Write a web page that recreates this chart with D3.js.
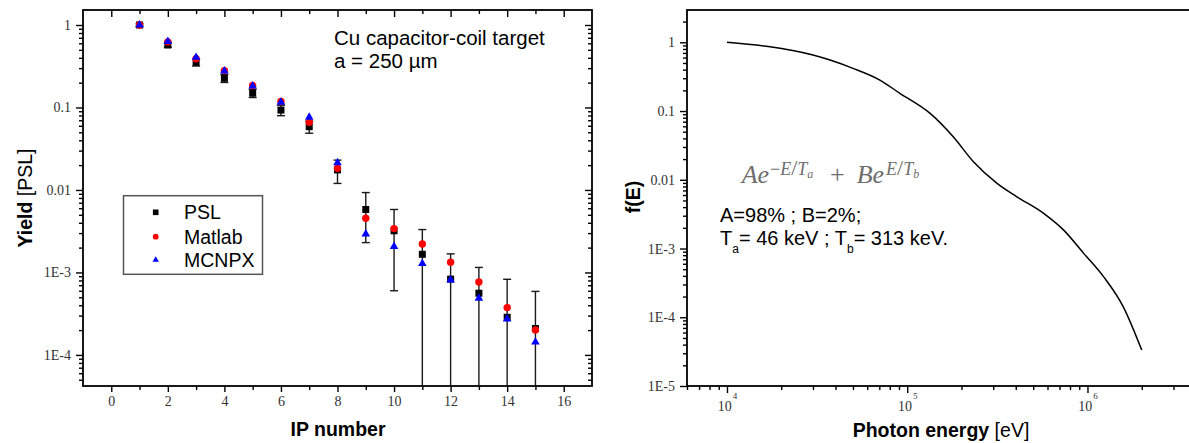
<!DOCTYPE html>
<html><head><meta charset="utf-8">
<script src="https://cdn.jsdelivr.net/npm/d3@7"></script>
<style>
body{margin:0;background:#fff;}
svg{display:block;font-family:"Liberation Sans",Arial,sans-serif;}
</style>
</head><body>
<script>
// ---------- DATA ----------
const ipNumbers   = [1,2,3,4,5,6,7,8,9,10,11,12,13,14,15];
const pslValues   = [1.0,0.572,0.353,0.226,0.149,0.093,0.0585,0.0175,0.0058,0.0032,0.00166,8.3e-4,5.6e-4,2.86e-4,2.09e-4];
const pslErrors   = [0.035,0.035,0.035,0.025,0.017,0.0135,0.0098,0.0055,0.0035,0.0026,0.00165,8.5e-4,5.9e-4,5.4e-4,3.8e-4];
const matlabValues= [1.0,0.625,0.39,0.28,0.185,0.118,0.066,0.0183,0.00454,0.0034,0.00221,0.00133,7.67e-4,3.75e-4,2.01e-4];
const mcnpxValues = [1.0,0.63,0.405,0.277,0.182,0.116,0.076,0.0214,0.00293,0.00206,0.00128,8.1e-4,4.87e-4,2.73e-4,1.43e-4];
const seriesNames = ["PSL","Matlab","MCNPX"];

const xTicksLeftMajor = [0,2,4,6,8,10,12,14,16];
const xTicksLeftMinor = [1,3,5,7,9,11,13,15];
const yTicksLeft  = [1e-4,1e-3,0.01,0.1,1];

const photonEnergy = [1e4,3e4,3.73e4,5e4,7.05e4,9.1e4,1.34e5,1.8e5,2.33e5,3.15e5,4.06e5,5.71e5,7.38e5,9.53e5,1.23e6,1.58e6,2.0e6];
const spectrumF    = [1,0.653,0.552,0.418,0.282,0.181,0.0925,0.0423,0.0183,0.00887,0.00566,0.00324,0.00185,8.5e-4,3.87e-4,1.42e-4,3.33e-5];
const xTicksRight  = [1e4,1e5,1e6];
const yTicksRight  = [1e-5,1e-4,1e-3,0.01,0.1,1];

// ---------- SETUP ----------
const svg = d3.select("body").append("svg").attr("width",1189).attr("height",443);
const SERIF = '"Liberation Serif","Times New Roman",serif';
const tickFmtLog = d => d >= 0.01 ? d3.format("~g")(d) : "1E" + Math.round(Math.log10(d));

function logMinor(lo, hi){
  const out=[];
  for(let e=Math.floor(Math.log10(lo)); e<=Math.ceil(Math.log10(hi)); e++)
    for(let m=2;m<=9;m++){ const v=m*Math.pow(10,e); if(v>=lo && v<=hi) out.push(v); }
  return out;
}
function styleAxis(g){
  g.select(".domain").remove();
  g.selectAll(".tick line").attr("stroke","#000").attr("stroke-width",1.4);
  g.selectAll(".tick text").attr("font-family",SERIF).attr("font-size",14).attr("fill","#333");
}

// ---------- LEFT PANEL ----------
const L = {x0:83, x1:592, y0:10, y1:386};
const xL = d3.scaleLinear().domain([-1,17]).range([L.x0,L.x1]);
const yL = d3.scaleLog().domain([4.2e-5,1.52]).range([L.y1,L.y0]);

svg.append("g").attr("transform",`translate(0,${L.y1})`)
  .call(d3.axisBottom(xL).tickValues(xTicksLeftMajor).tickSize(6).tickFormat(d3.format("d")))
  .call(styleAxis).call(g=>g.selectAll(".tick text").attr("y",20).attr("dy",null));
svg.append("g").attr("transform",`translate(0,${L.y1})`)
  .call(d3.axisBottom(xL).tickValues(xTicksLeftMinor).tickSize(4).tickFormat(""))
  .call(styleAxis);
svg.append("g").attr("transform",`translate(0,${L.y0})`)
  .call(d3.axisBottom(xL).tickValues(xTicksLeftMajor).tickSize(7).tickFormat(""))
  .call(styleAxis);
svg.append("g").attr("transform",`translate(0,${L.y0})`)
  .call(d3.axisBottom(xL).tickValues(xTicksLeftMinor).tickSize(4).tickFormat(""))
  .call(styleAxis);
svg.append("g").attr("transform",`translate(${L.x0},0)`)
  .call(d3.axisLeft(yL).tickValues(yTicksLeft).tickSize(7).tickPadding(5).tickFormat(tickFmtLog))
  .call(styleAxis);
svg.append("g").attr("transform",`translate(${L.x0},0)`)
  .call(d3.axisLeft(yL).tickValues(logMinor(4.2e-5,1.52)).tickSize(4).tickFormat(""))
  .call(styleAxis);
svg.append("g").attr("transform",`translate(${L.x1},0)`)
  .call(d3.axisLeft(yL).tickValues(yTicksLeft).tickSize(7).tickFormat(""))
  .call(styleAxis);
svg.append("g").attr("transform",`translate(${L.x1},0)`)
  .call(d3.axisLeft(yL).tickValues(logMinor(4.2e-5,1.52)).tickSize(4).tickFormat(""))
  .call(styleAxis);
svg.append("rect").attr("x",L.x0).attr("y",L.y0).attr("width",L.x1-L.x0).attr("height",L.y1-L.y0)
  .attr("fill","none").attr("stroke","#000").attr("stroke-width",1.8);

const pts = ipNumbers.map((ip,i)=>({ip, psl:pslValues[i], err:pslErrors[i], mat:matlabValues[i], mc:mcnpxValues[i]}));
const gData = svg.append("g");
const ebColor = "#1a1a1a";
pts.forEach(p=>{
  const x = xL(p.ip);
  const yt = yL(p.psl+p.err);
  const lowV = p.psl-p.err;
  const yb = lowV > yL.domain()[0] ? yL(lowV) : L.y1;
  gData.append("line").attr("x1",x).attr("x2",x).attr("y1",yt).attr("y2",yb).attr("stroke",ebColor).attr("stroke-width",1.4);
  gData.append("line").attr("x1",x-4).attr("x2",x+4).attr("y1",yt).attr("y2",yt).attr("stroke",ebColor).attr("stroke-width",1.4);
  if(lowV > yL.domain()[0])
    gData.append("line").attr("x1",x-4).attr("x2",x+4).attr("y1",yb).attr("y2",yb).attr("stroke",ebColor).attr("stroke-width",1.4);
});
gData.selectAll("rect.psl").data(pts).join("rect").attr("class","psl")
  .attr("x",d=>xL(d.ip)-3.5).attr("y",d=>yL(d.psl)-3.5).attr("width",7).attr("height",7).attr("fill","#000");
gData.selectAll("circle.mat").data(pts).join("circle").attr("class","mat")
  .attr("cx",d=>xL(d.ip)).attr("cy",d=>yL(d.mat)).attr("r",3.7).attr("fill","#ff0000");
const tri = d3.symbol(d3.symbolTriangle).size(32);
gData.selectAll("path.mc").data(pts).join("path").attr("class","mc")
  .attr("transform",d=>`translate(${xL(d.ip)},${yL(d.mc)})`).attr("d",tri).attr("fill","#0000ff");

// legend
const leg = svg.append("g");
leg.append("rect").attr("x",123.5).attr("y",195.7).attr("width",139).attr("height",78.6)
  .attr("fill","#fff").attr("stroke","#555").attr("stroke-width",1.5);
const legY = [212.3,236.7,260];
const legSym = [
  g=>g.append("rect").attr("x",-2.8).attr("y",-2.8).attr("width",5.6).attr("height",5.6).attr("fill","#000"),
  g=>g.append("circle").attr("r",2.9).attr("fill","#ff0000"),
  g=>g.append("path").attr("d",d3.symbol(d3.symbolTriangle).size(18)).attr("fill","#0000ff")
];
seriesNames.forEach((n,i)=>{
  const g = leg.append("g").attr("transform",`translate(155.7,${legY[i]})`);
  legSym[i](g);
  leg.append("text").attr("x",184).attr("y",legY[i]).attr("dy","0.36em").attr("font-size",19.5).attr("fill","#000").text(n);
});

// annotation
svg.append("text").attr("x",334).attr("y",44.5).attr("font-size",20.5).text("Cu capacitor-coil target");
svg.append("text").attr("x",334).attr("y",68).attr("font-size",20.5).text("a = 250 µm");

svg.append("text").attr("x",338).attr("y",436).attr("text-anchor","middle").attr("font-size",19.5)
  .attr("font-weight","bold").text("IP number");
const yt = svg.append("text").attr("transform","translate(32,198) rotate(-90)").attr("text-anchor","middle").attr("font-size",19.5);
yt.append("tspan").attr("font-weight","bold").text("Yield");
yt.append("tspan").text(" [PSL]");

// ---------- RIGHT PANEL ----------
const R = {x0:687, x1:1196, y0:10, y1:386};
const xR = d3.scaleLog().domain([6000,4e6]).range([R.x0,R.x1]);
const yR = d3.scaleLog().domain([1e-5,2.95]).range([R.y1,R.y0]);

svg.append("g").attr("transform",`translate(0,${R.y1})`)
  .call(d3.axisBottom(xR).tickValues(xTicksRight).tickSize(7).tickFormat(""))
  .call(styleAxis)
  .call(g=>g.selectAll(".tick").append("text")
    .attr("y",25).attr("text-anchor","middle").attr("font-family",SERIF).attr("fill","#333")
    .each(function(d){
      const t=d3.select(this);
      t.append("tspan").attr("font-size",14).text("10");
      t.append("tspan").attr("font-size",9).attr("dx",1).attr("dy",-12.5).text(Math.round(Math.log10(d)));
    }));
svg.append("g").attr("transform",`translate(0,${R.y1})`)
  .call(d3.axisBottom(xR).tickValues(logMinor(6000,4e6)).tickSize(4).tickFormat(""))
  .call(styleAxis);
svg.append("g").attr("transform",`translate(${R.x0},0)`)
  .call(d3.axisLeft(yR).tickValues(yTicksRight).tickSize(7).tickPadding(5).tickFormat(tickFmtLog))
  .call(styleAxis);
svg.append("g").attr("transform",`translate(${R.x0},0)`)
  .call(d3.axisLeft(yR).tickValues(logMinor(1e-5,2.95)).tickSize(4).tickFormat(""))
  .call(styleAxis);
svg.append("rect").attr("x",R.x0).attr("y",R.y0).attr("width",R.x1-R.x0).attr("height",R.y1-R.y0)
  .attr("fill","none").attr("stroke","#000").attr("stroke-width",1.8);

const spec = photonEnergy.map((e,i)=>[e,spectrumF[i]]);
svg.append("path").datum(spec)
  .attr("d",d3.line().x(d=>xR(d[0])).y(d=>yR(d[1])).curve(d3.curveMonotoneX))
  .attr("fill","none").attr("stroke","#000").attr("stroke-width",1.5);

// formula
const fg = "#6e6e6e";
const fm = svg.append("g").attr("fill",fg).attr("font-family",SERIF).attr("font-style","italic");
fm.append("text").attr("x",741.7).attr("y",183).attr("font-size",26).text("Ae");
const s1 = fm.append("text").attr("x",770).attr("y",175).attr("font-size",18);
s1.append("tspan").attr("font-style","normal").text("−");
s1.append("tspan").text("E");
s1.append("tspan").attr("font-style","normal").attr("font-size",22).text("/");
s1.append("tspan").text("T");
s1.append("tspan").attr("font-size",12).attr("dy",3).text("a");
fm.append("text").attr("x",830).attr("y",183).attr("font-size",26).attr("font-style","normal").text("+");
fm.append("text").attr("x",856.7).attr("y",183).attr("font-size",26).text("Be");
const s2 = fm.append("text").attr("x",886).attr("y",175).attr("font-size",18);
s2.append("tspan").text("E");
s2.append("tspan").attr("font-style","normal").attr("font-size",22).text("/");
s2.append("tspan").text("T");
s2.append("tspan").attr("font-size",12).attr("dy",3).text("b");

svg.append("text").attr("x",720).attr("y",221.7).attr("font-size",20).text("A=98% ; B=2%;");
const l2 = svg.append("text").attr("x",720).attr("y",245).attr("font-size",20);
l2.append("tspan").text("T");
l2.append("tspan").attr("font-size",12).attr("dy",8).text("a");
l2.append("tspan").attr("dy",-8).text("= 46 keV ; T");
l2.append("tspan").attr("font-size",12).attr("dy",8).text("b");
l2.append("tspan").attr("dy",-8).text("= 313 keV.");

svg.append("text").attr("x",941).attr("y",436.5).attr("text-anchor","middle").attr("font-size",19.5)
  .call(t=>{ t.append("tspan").attr("font-weight","bold").text("Photon energy"); t.append("tspan").text(" [eV]"); });
svg.append("text").attr("transform","translate(640,197) rotate(-90)").attr("text-anchor","middle")
  .attr("font-size",19.5).attr("font-weight","bold").text("f(E)");
</script>
</body></html>
